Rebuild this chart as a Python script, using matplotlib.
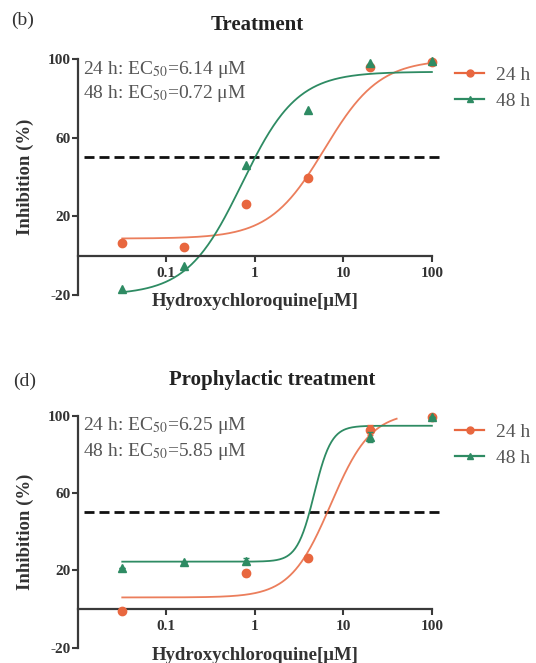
import numpy as np
import matplotlib
matplotlib.use('Agg')
import matplotlib.pyplot as plt
from matplotlib.lines import Line2D

plt.rcParams['font.family'] = 'Liberation Serif'
plt.rcParams['mathtext.fontset'] = 'stix'

# Hydroxychloroquine concentrations (μM) and inhibition (%)
treat_conc = [0.032, 0.16, 0.8, 4, 20, 100]
treat_24h = [6.2, 4.2, 26.5, 39.5, 96.0, 98.5]
treat_48h = [-17.2, -5.3, 45.9, 74.2, 97.9, 98.9]

proph_conc_24h = [0.032, 0.8, 4, 20, 100]
proph_24h = [-1.0, 18.8, 26.5, 92.6, 99.2]
proph_err_24h = [0, 1.5, 0, 2.5, 0]
proph_conc_48h = [0.032, 0.16, 0.8, 20, 100]
proph_48h = [21.4, 24.5, 24.8, 89.1, 99.4]
proph_err_48h = [0, 0, 1.5, 2.5, 0]

# fitted curves: bottom, top, EC50, hill slope, last concentration of the fit
treat_fit_24h = [8.7, 99.8, 6.14, 1.4, 100]
treat_fit_48h = [-20.0, 93.5, 0.72, 1.4, 100]
proph_fit_24h = [6.0, 102.0, 7.2, 1.9, 40]
proph_fit_48h = [24.5, 94.8, 4.7, 4.5, 100]

treat_ec50 = ['6.14', '0.72']
proph_ec50 = ['6.25', '5.85']
series_names = ['24 h', '48 h']
threshold = 50

C_24 = '#E8673F'
C_48 = '#2E8B63'
AX_C = '#3a3a3a'
TXT_C = '#555555'

W, H = 536, 663


def fig_xy(px, py):
    return px / W, 1 - py / H


def fit_curve(p, x0):
    bottom, top, ec50, hill, x1 = p
    x = np.logspace(np.log10(x0), np.log10(x1), 300)
    y = bottom + (top - bottom) / (1 + (ec50 / x) ** hill)
    return x, y


def draw_panel(fig, rect, pts24, pts48, fit24, fit48, ec50, title, tag,
               title_xy, tag_xy, note_y, leg_xy, xlabel_y):
    ax = fig.add_axes(rect)
    ax.set_xscale('log')
    ax.set_xlim(0.01, 137)
    ax.set_ylim(-20, 100)

    ax.axhline(threshold, xmin=0.018, xmax=1.0, color='#111111', lw=2.0,
               dashes=(3.6, 1.8), zorder=1)

    x, y = fit_curve(fit24, pts24[0][0])
    ax.plot(x, y, color=C_24, lw=1.3, alpha=0.85, zorder=2)
    x, y = fit_curve(fit48, pts48[0][0])
    ax.plot(x, y, color=C_48, lw=1.3, zorder=2)

    ax.errorbar(pts24[0], pts24[1], yerr=pts24[2], fmt='o', color=C_24, ms=6,
                elinewidth=1.2, capsize=2.5, clip_on=False, zorder=3)
    ax.errorbar(pts48[0], pts48[1], yerr=pts48[2], fmt='^', color=C_48, ms=5.5,
                elinewidth=1.2, capsize=2.5, clip_on=False, zorder=4)

    for s in ['top', 'right']:
        ax.spines[s].set_visible(False)
    ax.spines['bottom'].set_position(('data', 0))
    ax.spines['bottom'].set_bounds(0.01, 100)
    ax.spines['left'].set_bounds(-20, 100)
    for s in ['bottom', 'left']:
        ax.spines[s].set_color(AX_C)
        ax.spines[s].set_linewidth(1.6)

    ax.set_xticks([0.1, 1, 10, 100])
    ax.set_xticklabels(['0.1', '1', '10', '100'])
    ax.xaxis.set_minor_locator(plt.NullLocator())
    ax.set_yticks([-20, 20, 60, 100])
    ax.set_yticklabels(['-20', '20', '60', '100'])
    ax.tick_params(axis='x', length=4, width=1.5, color=AX_C, labelsize=11,
                   labelcolor='#333333', pad=4)
    ax.tick_params(axis='y', length=4, width=1.5, color=AX_C, labelsize=11,
                   labelcolor='#333333', pad=1)
    for lab in ax.get_xticklabels() + ax.get_yticklabels():
        lab.set_fontweight('bold')

    # EC50 notes
    for i, name in enumerate(series_names):
        fx, fy = fig_xy(83, note_y[i])
        fig.text(fx, fy, f'{name}: EC$_{{50}}$={ec50[i]} μM', fontsize=14,
                 color=TXT_C, ha='left', va='center')

    fx, fy = fig_xy(*title_xy)
    fig.text(fx, fy, title, fontsize=15, fontweight='bold', color='#222222',
             ha='center', va='center')
    fx, fy = fig_xy(*tag_xy)
    fig.text(fx, fy, tag, fontsize=14, color='#333333', ha='center', va='center')

    fx, fy = fig_xy(255, xlabel_y)
    fig.text(fx, fy, 'Hydroxychloroquine[μM]', fontsize=13.5, fontweight='bold',
             color='#333333', ha='center', va='center')
    mid = rect[1] + rect[3] / 2
    fig.text(25 / W, mid, 'Inhibition (%)', fontsize=13.5, fontweight='bold',
             color='#333333', rotation=90, ha='center', va='center')

    handles = [Line2D([], [], color=C_24, lw=1.6, marker='o', ms=5),
               Line2D([], [], color=C_48, lw=1.6, marker='^', ms=5)]
    fx, fy = fig_xy(*leg_xy)
    leg = ax.legend(handles, series_names, loc='upper left', bbox_to_anchor=(fx, fy),
                    bbox_transform=fig.transFigure, frameon=False, fontsize=14,
                    handlelength=1.5, handletextpad=0.6, borderpad=0,
                    borderaxespad=0, labelspacing=0.45)
    for t in leg.get_texts():
        t.set_color(TXT_C)
    return ax


fig = plt.figure(figsize=(W / 100, H / 100), dpi=100)

draw_panel(fig, [77.5 / W, 1 - 295 / H, (444 - 77.5) / W, 236 / H],
           (treat_conc, treat_24h, None), (treat_conc, treat_48h, None),
           treat_fit_24h, treat_fit_48h, treat_ec50,
           'Treatment', '(b)', (257, 25), (23, 20), (69, 94), (455, 66), 302)

draw_panel(fig, [77.5 / W, 1 - 647.7 / H, (444 - 77.5) / W, 232 / H],
           (proph_conc_24h, proph_24h, proph_err_24h),
           (proph_conc_48h, proph_48h, proph_err_48h),
           proph_fit_24h, proph_fit_48h, proph_ec50,
           'Prophylactic treatment', '(d)', (272, 380), (25, 381), (425, 451), (455, 423), 655)

fig.savefig('out.png', dpi=100)
